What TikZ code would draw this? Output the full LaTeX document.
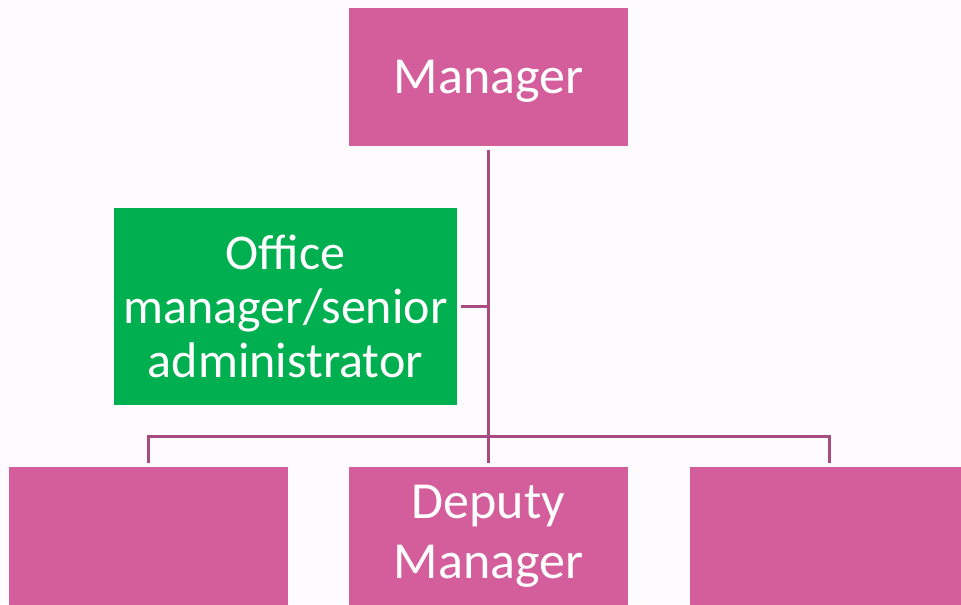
\documentclass[tikz,border=0pt]{standalone}
\usepackage{fontspec}
\setmainfont{Carlito}
\definecolor{boxpink}{RGB}{212,94,156}
\definecolor{boxgreen}{RGB}{0,176,80}
\definecolor{linepurple}{RGB}{168,75,128}
\definecolor{bgwhite}{RGB}{253,251,253}
\begin{document}
\begin{tikzpicture}[x=0.75pt,y=-0.75pt,
  orgbox/.style={rectangle, draw=none, fill=boxpink, inner sep=0pt,
    minimum width=209.25pt, minimum height=103.5pt, text=white, align=center,
    font=\fontsize{37.5}{45}\selectfont},
  greenbox/.style={orgbox, fill=boxgreen, minimum width=257.25pt, minimum height=147.75pt},
  conn/.style={draw=linepurple, line width=2.25pt}]
\fill[bgwhite] (0,0) rectangle (961,604);
\useasboundingbox (0,0) rectangle (961,604);
\node[orgbox, font=\fontsize{39}{45}\selectfont] (mgr) at (488.5,77) {\raisebox{0pt}[\dimexpr\height+6pt\relax]{Manager}};
\node[greenbox, font=\fontsize{37.5}{40.5}\selectfont] (office) at (285.5,306.5) {Office\\manager/senior\\administrator};
\node[orgbox] (left) at (148.5,536) {};
\node[orgbox, font=\fontsize{39}{45}\selectfont] (dep) at (488.5,536) {Deputy\\Manager};
\node[orgbox] (right) at (829.5,536) {};
\coordinate (hb) at (488.5,436);
\draw[conn] ([yshift=-2.5pt]mgr.south) -- ([yshift=3pt]dep.north);
\draw[conn] ([yshift=3pt]left.north) |- (hb) -| ([yshift=3pt]right.north);
\draw[conn] ([xshift=2.5pt]office.east) -- (office.east -| mgr.south);
\end{tikzpicture}
\end{document}
